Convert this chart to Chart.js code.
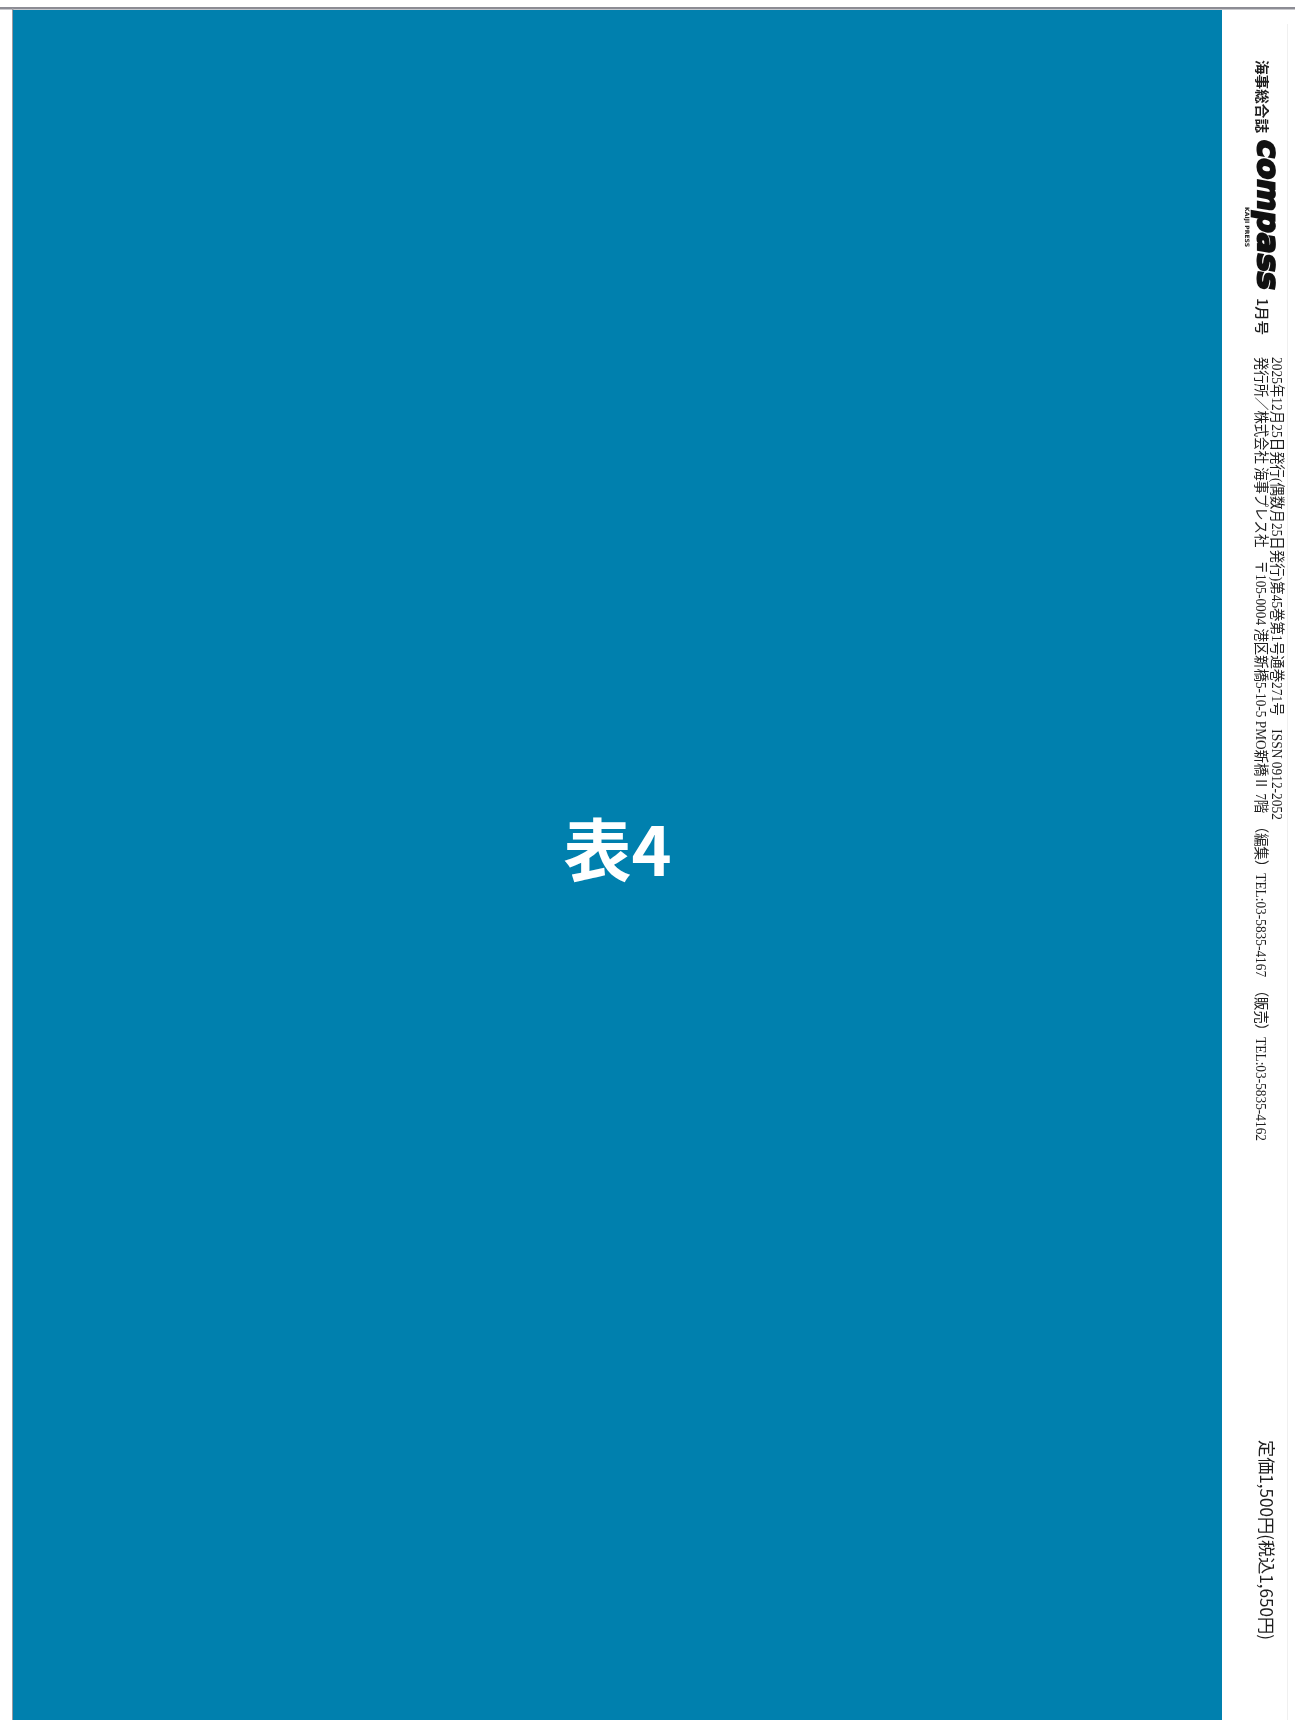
<!DOCTYPE html>
<html>
<head>
<meta charset="utf-8">
<script src="https://cdn.jsdelivr.net/npm/chart.js@4.4.1/dist/chart.umd.min.js"></script>
<style>
  html, body { margin: 0; padding: 0; background: #fff; }
  #cover { display: block; }
</style>
</head>
<body>
<canvas id="cover" width="1295" height="1720"></canvas>
<script>
const pageLabels = ['表4'];
const pageValues = [1];
const spineTitle = '海事総合誌';
const spineLogo = 'compass';
const spineLogoSub = 'KAIJI PRESS';
const spineIssue = '1月号';
const spineLine1 = '2025年12月25日発行(偶数月25日発行)第45巻第1号通巻271号　ISSN 0912-2052';
const spineLine2 = '発行所／株式会社 海事プレス社　〒105-0004 港区新橋5-10-5 PMO新橋Ⅱ 7階　（編集）TEL:03-5835-4167　（販売）TEL:03-5835-4162';
const spinePrice = '定価1,500円(税込1,650円)';

const coverBlue = '#0080ae';
const ink = '#1e1e1e';

// draws text turned a quarter clockwise, squeezed to a given length
function sideText(ctx, text, x, y, font, length, color) {
  ctx.save();
  ctx.translate(x, y);
  ctx.rotate(Math.PI / 2);
  ctx.font = font;
  ctx.fillStyle = color || ink;
  ctx.textAlign = 'left';
  ctx.textBaseline = 'middle';
  if (length) {
    const w = ctx.measureText(text).width;
    ctx.scale(length / w, 1);
  }
  ctx.fillText(text, 0, 0);
  ctx.restore();
}

const coverDecor = {
  id: 'coverDecor',
  beforeDraw(chart) {
    const ctx = chart.ctx;
    ctx.save();
    ctx.fillStyle = '#fff';
    ctx.fillRect(0, 0, chart.width, chart.height);
    // frame lines
    ctx.fillStyle = '#8c8c94';
    ctx.fillRect(0, 7, chart.width, 2);
    ctx.fillStyle = '#c8c8cc';
    ctx.fillRect(0, 9, chart.width, 1);
    ctx.fillStyle = '#9a9aa0';
    ctx.fillRect(12, 8, 1.5, chart.height - 8);
    ctx.fillStyle = '#f0f0f0';
    ctx.fillRect(1287, 24, 1, chart.height - 24);
    ctx.restore();
  },
  afterDraw(chart) {
    const ctx = chart.ctx;
    const area = chart.chartArea;
    const cx = (area.left + area.right) / 2;

    // centre label
    ctx.save();
    ctx.fillStyle = '#ffffff';
    ctx.font = 'bold 68px "Noto Sans CJK JP", "Noto Sans", sans-serif';
    ctx.textAlign = 'center';
    ctx.textBaseline = 'middle';
    ctx.fillText(pageLabels[0], cx, 850);
    ctx.restore();

    // spine
    sideText(ctx, spineTitle, 1262, 60, 'bold 14px "Noto Sans CJK JP", sans-serif', 73);

    ctx.save();
    ctx.translate(1266, 140);
    ctx.rotate(Math.PI / 2);
    ctx.transform(1, 0, -0.18, 1, 0, 0);
    ctx.font = '900 30px "DejaVu Sans", sans-serif';
    ctx.fillStyle = '#111';
    ctx.strokeStyle = '#111';
    ctx.lineWidth = 2.2;
    ctx.lineJoin = 'miter';
    ctx.textBaseline = 'alphabetic';
    const lw = ctx.measureText(spineLogo).width;
    ctx.scale(150 / lw, 1);
    ctx.fillText(spineLogo, 0, 8);
    ctx.strokeText(spineLogo, 0, 8);
    ctx.restore();
    sideText(ctx, spineLogoSub, 1247, 207, 'bold 6px "DejaVu Sans Condensed", sans-serif', 40, '#222');

    sideText(ctx, spineIssue, 1262, 298, '500 14px "Noto Sans CJK JP", sans-serif', 37);

    const serif = '14.5px "Liberation Serif", "Noto Sans CJK JP", serif';
    sideText(ctx, spineLine1, 1276, 357, serif, 463);
    sideText(ctx, spineLine2, 1260, 357, serif, 784);

    sideText(ctx, spinePrice, 1266, 1440, '17px "Noto Sans CJK JP", "Noto Sans", sans-serif', 200);
  }
};

new Chart(document.getElementById('cover'), {
  type: 'bar',
  data: {
    labels: pageLabels,
    datasets: [{
      data: pageValues,
      backgroundColor: coverBlue,
      borderWidth: 0,
      barPercentage: 1,
      categoryPercentage: 1
    }]
  },
  options: {
    responsive: false,
    animation: false,
    devicePixelRatio: 1,
    layout: { padding: { left: 13, top: 10, right: 73, bottom: 0 } },
    plugins: { legend: { display: false }, tooltip: { enabled: false } },
    scales: {
      x: { display: false },
      y: { display: false, min: 0, max: 1 }
    }
  },
  plugins: [coverDecor]
});
</script>
</body>
</html>
